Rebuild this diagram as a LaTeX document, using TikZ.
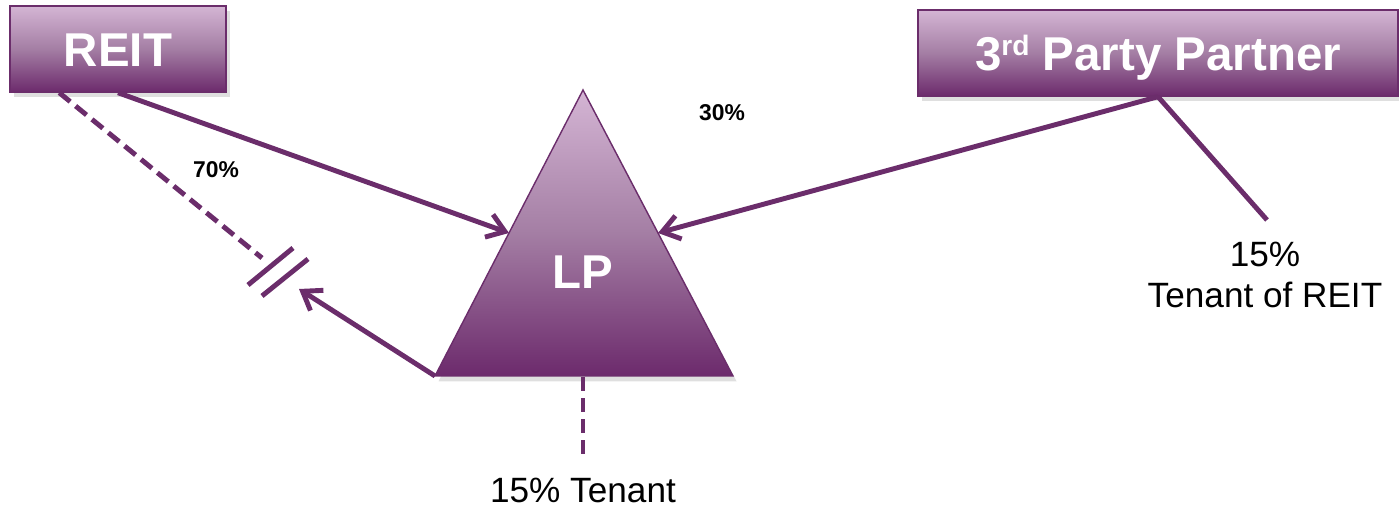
\documentclass[tikz,border=0pt]{standalone}
\usepackage{fontspec}
\setmainfont{Liberation Sans}
\usepackage{xcolor}
\usetikzlibrary{arrows.meta, calc, shadows}
\definecolor{pl}{HTML}{6B2D6B}
\definecolor{plight}{HTML}{D4B5D4}
\definecolor{pmid}{HTML}{A47EA4}
\definecolor{pdark}{HTML}{6C2A6C}

\begin{document}
\begin{tikzpicture}[
      x = 0.01cm, y = -0.01cm, % one unit per pixel, y going down
      > = {Straight Barb[length=1.7mm, width=2.4mm]}, % arrow head style
      line width = 1.4pt, % line style
      color = pl,
    ]

    \tikzstyle{party}=[
      draw = pl,
      thin,
      top color = plight,
      bottom color = pdark,
      middle color = pmid,
      drop shadow = {shadow xshift=1.2pt, shadow yshift=-1.5pt, opacity=0.25},
      text = white,
      font = \fontsize{13.5}{16}\selectfont\bfseries,
      text height = 9.7pt,
      text depth = 0pt,
      minimum height = 0.86cm
    ]
    \tikzstyle{lpfill}=[
      draw = pl,
      thin,
      top color = plight,
      bottom color = pdark,
      middle color = pmid,
      drop shadow = {shadow xshift=1pt, shadow yshift=-1.5pt, opacity=0.25}
    ]
    \tikzstyle{pct}=[text = black, inner sep = 0pt, font = \fontsize{6.5}{8}\selectfont\bfseries]
    \tikzstyle{tenant}=[text = black, inner sep = 0pt, font = \fontsize{10}{11.7}\selectfont]
    \tikzstyle{dashline}=[dash pattern = on 4pt off 2pt]

    \useasboundingbox (0, 0) rectangle (1399, 507);

    \coordinate (lpTop) at (583, 90);
    \coordinate (lpLeft) at (435, 376);
    \coordinate (lpRight) at (733, 376);
    \shade[lpfill] (lpTop) -- (lpRight) -- (lpLeft) -- cycle;
    \node[text = white, font = \fontsize{13.5}{16}\selectfont\bfseries] (lp) at (583, 272) {LP};
    \coordinate (lpW) at ($(lpTop)!0.5!(lpLeft)$);
    \coordinate (lpE) at ($(lpTop)!0.5!(lpRight)$);
    \coordinate (lpBase) at (583, 377);

    \node[party, minimum width = 2.16cm] (reit) at (118, 49) {REIT};
    \node[party, minimum width = 4.8cm] (ppp) at (1158, 53) {3\raisebox{4pt}{\fontsize{8}{8}\selectfont rd} Party Partner};

    \node[pct] (p70) at (216, 170) {70\%};
    \node[pct] (p30) at (722, 113) {30\%};
    \node[tenant] (lptenant) at (583, 490) {15\% Tenant};
    \node[tenant, align = center] (reittenant) at (1265, 275) {15\%\\Tenant of REIT};

    \coordinate (cut) at (262, 258);
    \coordinate (back) at (299, 289);
    \coordinate (stub) at (1267, 220);
    \coordinate (lpfoot) at (583, 457);

    \path[->] (reit.south) edge node {} (lpW);
    \path[->] (ppp.south) edge node {} (lpE);
    \path[->] (lpLeft) edge node {} (back);
    \path (ppp.south) edge node {} (stub);
    \path[dashline] ($(reit.south west)!0.23!(reit.south east)$) edge node {} (cut);
    \path[dashline] (lpBase) edge node {} (lpfoot);
%   break marks
    \draw (248, 285) -- (293, 248);
    \draw (262, 296) -- (308, 259);
  \end{tikzpicture}
\end{document}
